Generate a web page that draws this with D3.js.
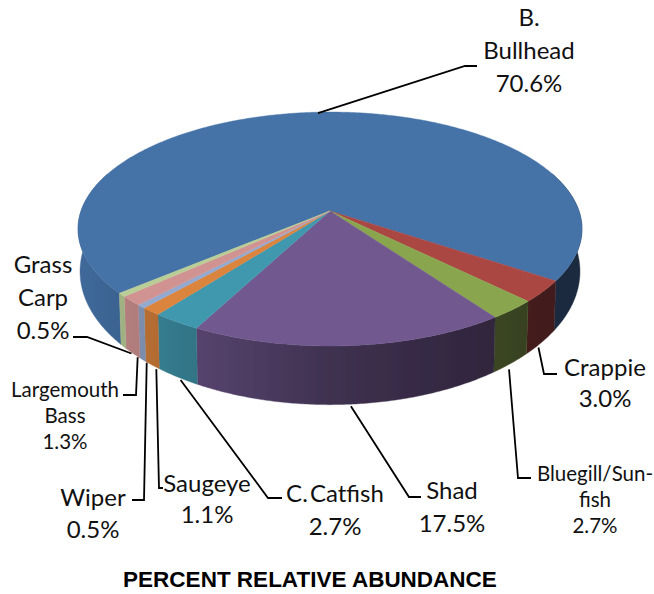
<!DOCTYPE html>
<html>
<head>
<meta charset="utf-8">
<script src="https://cdn.jsdelivr.net/npm/d3@7"></script>
<style>
  html, body { margin: 0; padding: 0; background: #fff; }
  svg { display: block; }
  .label { font-family: Lato, "Open Sans", sans-serif; fill: #111; text-anchor: middle; }
  .title { font-family: "Liberation Sans", Arial, sans-serif; font-weight: bold; font-size: 22.5px; fill: #000; text-anchor: middle; }
  .leader { fill: none; stroke: #000; stroke-width: 1.8; }
</style>
</head>
<body>
<svg width="654" height="594"></svg>
<script>
// values
const categories = ['B. Bullhead', 'Crappie', 'Bluegill/Sunfish', 'Shad', 'C. Catfish', 'Saugeye', 'Wiper', 'Largemouth Bass', 'Grass Carp'];
const percents = [70.6, 3.0, 2.7, 17.5, 2.7, 1.1, 0.5, 1.3, 0.5];
const nameLines = [['B.', 'Bullhead'], ['Crappie'], ['Bluegill/Sun-', 'fish'], ['Shad'], ['C. Catfish'], ['Saugeye'], ['Wiper'], ['Largemouth', 'Bass'], ['Grass', 'Carp']];
const colors = ['#4572A7', '#AA4643', '#89A54E', '#71588F', '#4198AF', '#DB843D', '#93A9CF', '#D19392', '#B9CD96'];
const titleText = 'PERCENT RELATIVE ABUNDANCE';

// where each label and the elbow of its leader sit, nudge moves the leader's start
const layout = [
  { x: 529, y: 26, step: 33, size: 24, nudge: [0, 1], elbow: [[465, 66], [477, 66]], fromTop: true },
  { x: 605, y: 376, step: 31, size: 24, nudge: [-3, 5], elbow: [[544, 374], [557, 374]] },
  { x: 595, y: 481, step: 26, size: 20.5, nudge: [-2, 6], elbow: [[518, 478], [531, 478]] },
  { x: 452, y: 499, step: 33, size: 24, nudge: [1, 2], elbow: [[409, 497], [421, 497]] },
  { x: 335, y: 502, step: 33, size: 24, spacing: -4, nudge: [3, 3], elbow: [[268, 498], [282, 498]] },
  { x: 207, y: 492, step: 31, size: 24, nudge: [4, 4], elbow: [[159, 488], [163, 488]] },
  { x: 93, y: 506, step: 32, size: 24, nudge: [4, 3], elbow: [[144, 500], [132, 500]] },
  { x: 65, y: 397, step: 26, size: 20.5, nudge: [5, 4], elbow: [[136, 395], [123, 395]] },
  { x: 43, y: 273, step: 33, size: 24, nudge: [8, 7], elbow: [[87, 337], [73, 337]] }
];

const svg = d3.select('svg');

// tilted disc: the apex sits above the middle of the ellipse because of the perspective
const cx = 330, apexY = 211;
const a = 249, b = 114.2, k = 0.1538;
const toRad = Math.PI / 180;

const project = (angle, ax, by, y0) => {
  const u = Math.sin(angle), v = -Math.cos(angle);
  const w = 1 - k * v;
  return { x: cx + ax * u / w, y: y0 + by * v / w };
};
const rim = angle => project(angle, a, b, apexY);
// underside of the disc opens a bit wider than the top face
const lower = angle => project(angle, 247, 130, 251);

const startAngle = 229.6 * toRad;
const slices = d3.pie().sort(null)
  .startAngle(startAngle)
  .endAngle(startAngle + 2 * Math.PI)(percents);

const line = d3.line().x(d => d.x).y(d => d.y);
const sample = (from, to) => {
  const n = Math.max(2, Math.ceil((to - from) / (0.5 * toRad)));
  return d3.range(n + 1).map(i => from + (to - from) * i / n);
};

// side shading gets darker to the right
const shade = d3.scaleLinear()
  .domain([78, 200, 330, 500, 582])
  .range([0.92, 0.76, 0.56, 0.42, 0.37]);

const defs = svg.append('defs');
defs.append('filter').attr('id', 'soft')
  .attr('filterUnits', 'userSpaceOnUse')
  .attr('x', 0).attr('y', 0).attr('width', 654).attr('height', 594)
  .append('feGaussianBlur').attr('stdDeviation', 0.55);

colors.forEach((c, i) => {
  const grad = defs.append('linearGradient')
    .attr('id', 'side' + i)
    .attr('gradientUnits', 'userSpaceOnUse')
    .attr('x1', 78).attr('x2', 582).attr('y1', 0).attr('y2', 0);
  shade.domain().forEach(x => {
    const base = d3.rgb(c);
    const f = shade(x);
    grad.append('stop')
      .attr('offset', (x - 78) / 504)
      .attr('stop-color', d3.rgb(base.r * f, base.g * f, base.b * f).formatHex());
  });
});

const pie = svg.append('g').attr('filter', 'url(#soft)');

// only the front of the disc shows its side
const windows = [[70 * toRad, 290 * toRad], [430 * toRad, 650 * toRad]];
slices.forEach((s, i) => {
  windows.forEach(w => {
    const from = Math.max(s.startAngle, w[0]);
    const to = Math.min(s.endAngle, w[1]);
    if (to <= from) return;
    const angles = sample(from, to);
    const pts = angles.map(rim).concat(angles.slice().reverse().map(lower));
    pie.append('path')
      .attr('d', line(pts) + 'Z')
      .attr('fill', `url(#side${i})`)
      .attr('stroke', `url(#side${i})`)
      .attr('stroke-width', 0.4);
  });
});

slices.forEach((s, i) => {
  const pts = [{ x: cx, y: apexY }].concat(sample(s.startAngle, s.endAngle).map(rim));
  pie.append('path')
    .attr('d', line(pts) + 'Z')
    .attr('fill', colors[i])
    .attr('stroke', colors[i])
    .attr('stroke-width', 0.4);
});

// leaders start from the middle of each slice
slices.forEach((s, i) => {
  const mid = (s.startAngle + s.endAngle) / 2;
  const start = layout[i].fromTop ? rim(mid) : lower(mid);
  const pts = [{ x: start.x + layout[i].nudge[0], y: start.y + layout[i].nudge[1] }]
    .concat(layout[i].elbow.map(e => ({ x: e[0], y: e[1] })));
  svg.append('path').attr('class', 'leader').attr('d', line(pts));
});

// labels
categories.forEach((name, i) => {
  const pos = layout[i];
  const lines = nameLines[i].concat(d3.format('.1f')(percents[i]) + '%');
  svg.append('text')
    .attr('class', 'label')
    .attr('font-size', pos.size)
    .style('word-spacing', (pos.spacing || 0) + 'px')
    .selectAll('tspan').data(lines).enter().append('tspan')
    .attr('x', pos.x)
    .attr('y', (d, j) => pos.y + j * pos.step)
    .text(d => d);
});

svg.append('text')
  .attr('class', 'title')
  .attr('x', 310)
  .attr('y', 587)
  .text(titleText);
</script>
</body>
</html>
